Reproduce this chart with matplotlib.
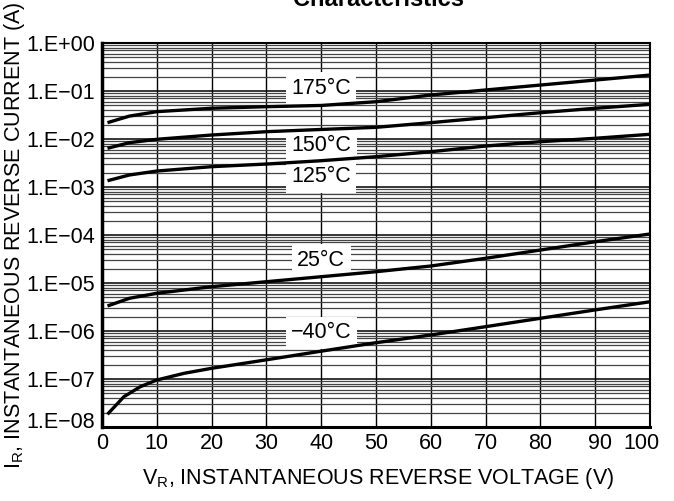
import matplotlib
matplotlib.use("Agg")
import matplotlib.pyplot as plt
from matplotlib.ticker import FixedLocator, LogLocator, NullFormatter
from matplotlib.transforms import ScaledTranslation

plt.rcParams['font.family'] = ['Liberation Sans', 'DejaVu Sans']
plt.rcParams['mathtext.fontset'] = 'custom'
plt.rcParams['mathtext.rm'] = 'Liberation Sans'

# ---- data ----
v_175 = [1, 5, 10, 20, 30, 40, 50, 60, 70, 80, 90, 100]
i_175 = [0.0219, 0.030, 0.0371, 0.0437, 0.0471, 0.050, 0.0598, 0.0826, 0.105, 0.133, 0.169, 0.215]

v_150 = [1, 5, 10, 20, 30, 40, 50, 60, 70, 80, 90, 100]
i_150 = [0.0064, 0.00838, 0.00986, 0.0121, 0.0142, 0.0158, 0.0175, 0.0219, 0.0278, 0.0353, 0.0437, 0.0528]

v_125 = [1, 5, 10, 20, 30, 40, 50, 60, 70, 80, 90, 100]
i_125 = [0.00135, 0.00178, 0.00215, 0.00265, 0.00301, 0.00353, 0.00428, 0.00543, 0.00714, 0.00879, 0.01035, 0.01253]

v_25 = [1, 5, 10, 20, 30, 40, 50, 60, 70, 80, 90, 100]
i_25 = [3.32e-6, 4.80e-6, 6.10e-6, 8.38e-6, 1.064e-5, 1.352e-5, 1.718e-5, 2.26e-5, 3.27e-5, 4.86e-5, 7.24e-5, 1.05e-4]

v_m40 = [1, 4, 7, 10, 15, 20, 30, 40, 50, 60, 70, 80, 90, 100]
i_m40 = [1.84e-8, 4.28e-8, 6.92e-8, 9.53e-8, 1.315e-7, 1.67e-7, 2.51e-7, 3.80e-7, 5.70e-7, 8.26e-7, 1.23e-6, 1.84e-6, 2.75e-6, 4.07e-6]

curve_labels = ['175°C', '150°C', '125°C', '25°C', '\u221240°C']
label_v = [40, 40, 40, 40, 40]
label_i = [0.114, 0.00715, 0.00164, 3.0e-5, 9.1e-7]

x_ticks = [0, 10, 20, 30, 40, 50, 60, 70, 80, 90, 100]
y_ticks = [1e0, 1e-1, 1e-2, 1e-3, 1e-4, 1e-5, 1e-6, 1e-7, 1e-8]
y_ticklabels = ['1.E+00', '1.E\u221201', '1.E\u221202', '1.E\u221203', '1.E\u221204',
                '1.E\u221205', '1.E\u221206', '1.E\u221207', '1.E\u221208']

FS = 15.5

# ---- figure ----
fig = plt.figure(figsize=(6.74, 5.01), dpi=100)
ax = fig.add_axes([102 / 674, 1 - 427 / 501, 548 / 674, 384 / 501])
ax.set_yscale('log')
ax.set_xlim(0, 100)
ax.set_ylim(1e-8, 1e0)

ax.xaxis.set_major_locator(FixedLocator(x_ticks))
ax.set_xticklabels([str(t) for t in x_ticks])
ax.yaxis.set_major_locator(FixedLocator(y_ticks))
ax.set_yticklabels(y_ticklabels)
ax.yaxis.set_minor_locator(LogLocator(base=10, subs=[2, 3, 4, 5, 6, 7, 8, 9], numticks=20))
ax.yaxis.set_minor_formatter(NullFormatter())

ax.tick_params(which='both', length=0)
ax.tick_params(axis='x', labelsize=FS, pad=4)
ax.tick_params(axis='y', labelsize=FS, pad=5)

ax.grid(True, which='major', axis='x', color='black', linewidth=1.0)
ax.grid(True, which='major', axis='y', color='black', linewidth=1.1)
ax.grid(True, which='minor', axis='y', color='#454545', linewidth=0.9)
ax.set_axisbelow(True)

for s, lw in (('left', 2.5), ('bottom', 2.2), ('top', 1.5), ('right', 1.5)):
    ax.spines[s].set_linewidth(lw)

series = [(v_175, i_175), (v_150, i_150), (v_125, i_125), (v_25, i_25), (v_m40, i_m40)]
for v, i in series:
    ax.plot(v, i, color='black', linewidth=2.4, solid_capstyle='butt', zorder=4)

for txt, lv, li in zip(curve_labels, label_v, label_i):
    ax.text(lv, li, txt, ha='center', va='center', fontsize=FS, zorder=3,
            bbox=dict(boxstyle='square,pad=0.25', facecolor='white', edgecolor='none'))

# shift crowded tick labels as in the reference
xl = ax.get_xticklabels()
xl[-1].set_transform(xl[-1].get_transform() + ScaledTranslation(-9 / 100, 0, fig.dpi_scale_trans))
xl[-2].set_transform(xl[-2].get_transform() + ScaledTranslation(5 / 100, 0, fig.dpi_scale_trans))
yl = ax.get_yticklabels()
yl[-1].set_transform(yl[-1].get_transform() + ScaledTranslation(0, 7 / 100, fig.dpi_scale_trans))

ax.set_xlabel(r'V$_\mathregular{R}$, INSTANTANEOUS REVERSE VOLTAGE (V)', fontsize=FS)
ax.xaxis.set_label_coords(0.503, -39 / 384)
ax.xaxis.label.set_va('top')
ax.set_ylabel(r'I$_\mathregular{R}$, INSTANTANEOUS REVERSE CURRENT (A)', fontsize=FS)
ax.yaxis.set_label_coords(-75 / 548, 0.5)

fig.text(378 / 674, 1 - 6 / 501, 'Characteristics', ha='center', va='baseline',
         fontsize=17, fontweight='bold')

fig.savefig('out.png', dpi=100)
